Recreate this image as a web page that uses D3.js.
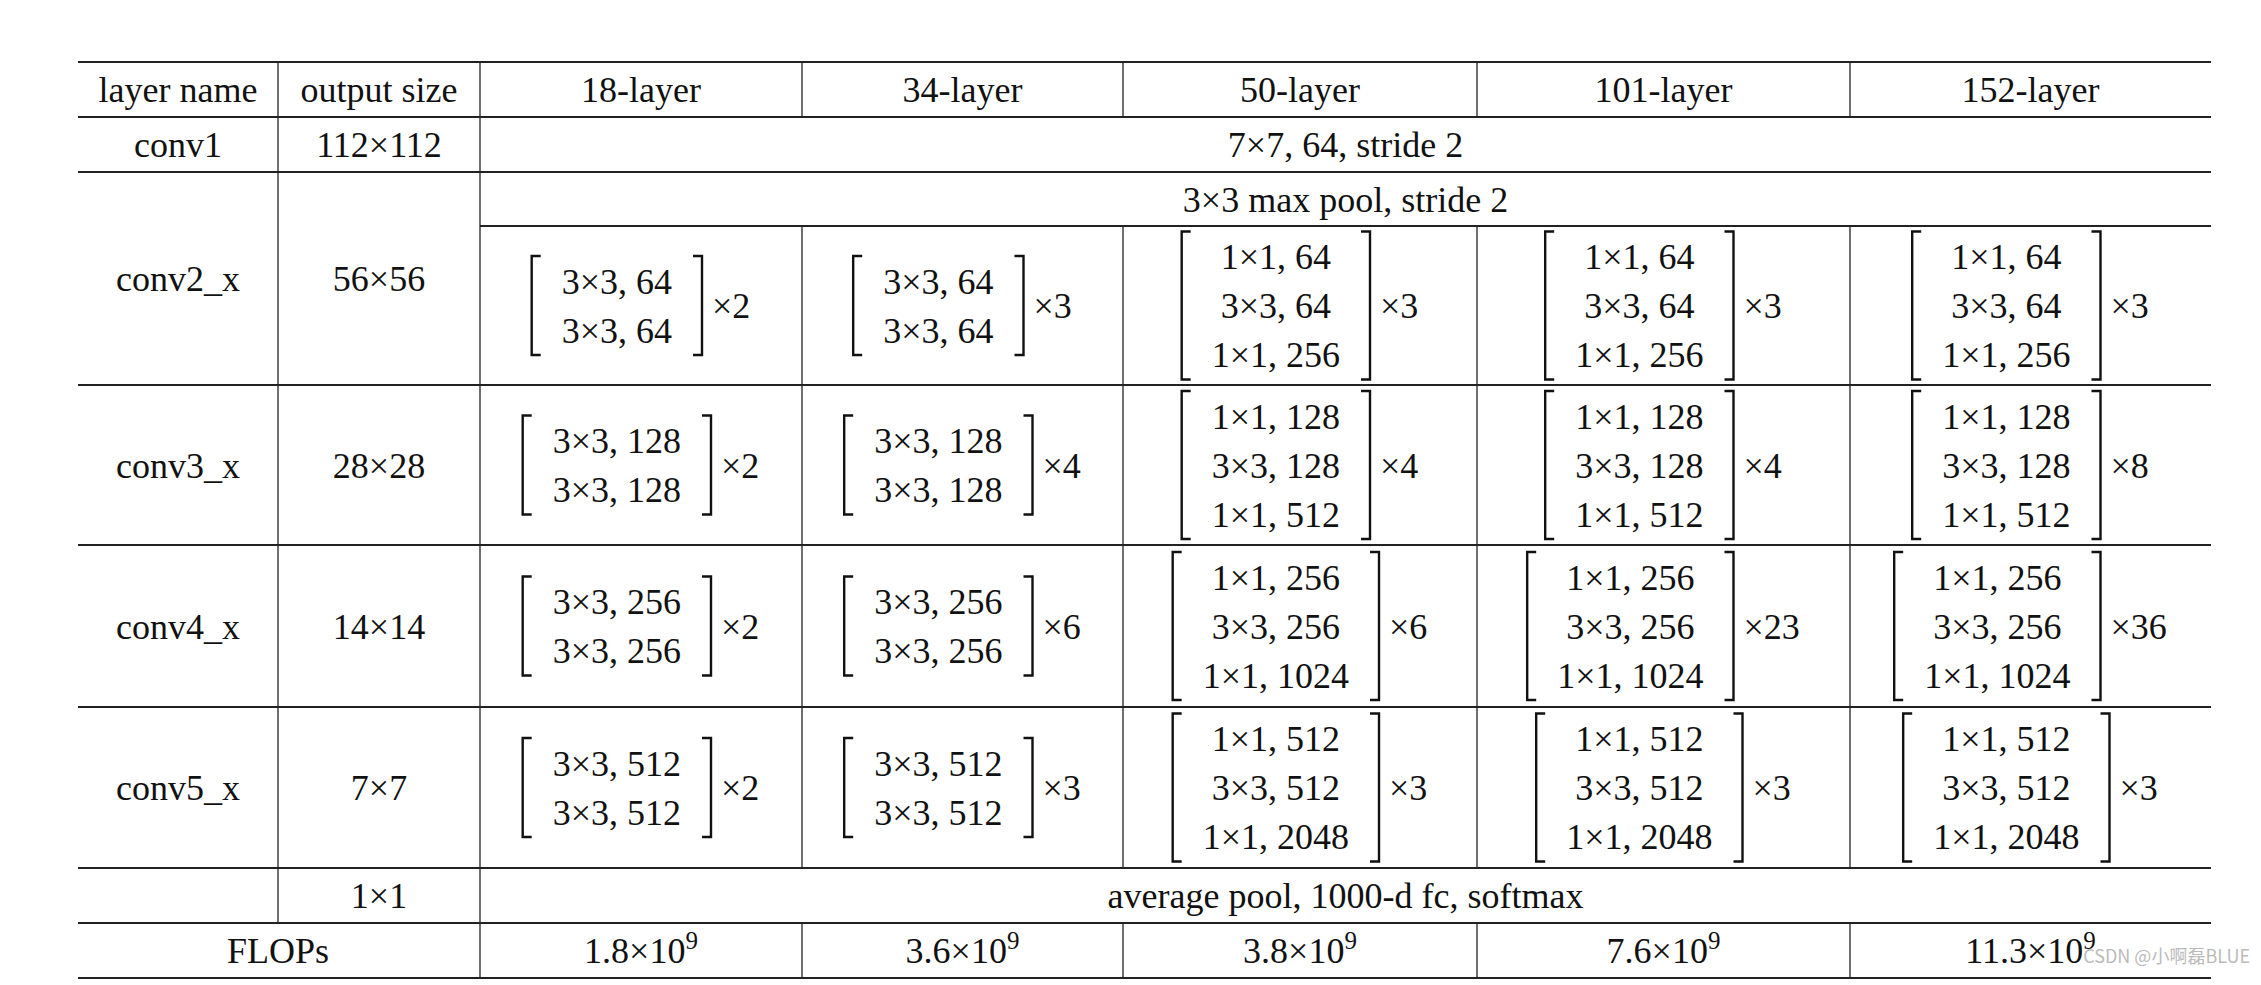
<!DOCTYPE html>
<html><head><meta charset="utf-8">
<script src="https://cdn.jsdelivr.net/npm/d3@7"></script>
<style>body{margin:0;background:#fff}svg{display:block}</style>
</head><body>
<script>
const headers = ["layer name","output size","18-layer","34-layer","50-layer","101-layer","152-layer"];
const layerNames = ["conv1","conv2_x","conv3_x","conv4_x","conv5_x","","FLOPs"];
const outputSizes = ["112×112","56×56","28×28","14×14","7×7","1×1"];
const conv1Text = "7×7, 64, stride 2";
const poolText = "3×3 max pool, stride 2";
const finalText = "average pool, 1000-d fc, softmax";
const basicBlocks = [["3×3, 64","3×3, 64"],["3×3, 128","3×3, 128"],["3×3, 256","3×3, 256"],["3×3, 512","3×3, 512"]];
const bottleBlocks = [["1×1, 64","3×3, 64","1×1, 256"],["1×1, 128","3×3, 128","1×1, 512"],["1×1, 256","3×3, 256","1×1, 1024"],["1×1, 512","3×3, 512","1×1, 2048"]];
const repeats18 = [2,2,2,2], repeats34=[3,4,6,3], repeats50=[3,4,6,3], repeats101=[3,4,23,3], repeats152=[3,8,36,3];
const flops = ["1.8","3.6","3.8","7.6","11.3"];

const W=2261,H=985, FS=36, FONT="'Liberation Serif','Times New Roman',serif";
const colX=[78,278,480,802,1123,1477,1850,2211];
const rowY=[62,117,172,226,385,545,707,868,923,978];
const svg=d3.select("body").append("svg").attr("width",W).attr("height",H).style("font-family",FONT);
const cx=i=>(colX[i]+colX[i+1])/2;
function txt(x,y,s,anchor="middle",size=FS){return svg.append("text").attr("x",x).attr("y",y).attr("dy","0.35em").attr("text-anchor",anchor).attr("font-size",size).attr("fill","#111").text(s);}
function hline(y,x1,x2,w=2){svg.append("line").attr("x1",x1).attr("x2",x2).attr("y1",y).attr("y2",y).attr("stroke","#222").attr("stroke-width",w);}
function vline(x,y1,y2){svg.append("line").attr("x1",x).attr("x2",x).attr("y1",y1).attr("y2",y2).attr("stroke","#222").attr("stroke-width",1.3);}

rowY.forEach((y,i)=>{ if(i===3) hline(y,colX[2],colX[7]); else hline(y,colX[0],colX[7], (i===0||i===9)?2.2:2); });
vline(colX[1],rowY[0],rowY[8]); vline(colX[2],rowY[0],rowY[9]);
[3,4,5,6].forEach(c=>{vline(colX[c],rowY[0],rowY[1]);vline(colX[c],rowY[3],rowY[7]);vline(colX[c],rowY[8],rowY[9]);});

headers.forEach((h,i)=>txt(cx(i),(rowY[0]+rowY[1])/2,h));
const nameRows=[[1,2],[2,4],[4,5],[5,6],[6,7],[7,8]];
nameRows.forEach((r,i)=>{const y=(rowY[r[0]]+rowY[r[1]])/2; if(layerNames[i]) txt(cx(0),y,layerNames[i]); txt(cx(1),y,outputSizes[i]);});
txt(colX[1],(rowY[8]+rowY[9])/2,"FLOPs");
const spanX=(colX[2]+colX[7])/2;
txt(spanX,(rowY[1]+rowY[2])/2,conv1Text);
txt(spanX,(rowY[2]+rowY[3])/2,poolText);
txt(spanX,(rowY[7]+rowY[8])/2,finalText);

const reps=[repeats18,repeats34,repeats50,repeats101,repeats152];
const LH=49,PAD=30,GAP=10,TICK=9;
for(let c=0;c<5;c++){
  for(let b=0;b<4;b++){
    const lines=c<2?basicBlocks[b]:bottleBlocks[b];
    const y0=rowY[b+3],y1=rowY[b+4],ym=(y0+y1)/2;
    const g=svg.append("g");
    const ts=lines.map((s,k)=>g.append("text").attr("y",ym+(k-(lines.length-1)/2)*LH).attr("dy","0.35em").attr("text-anchor","middle").attr("font-size",FS).attr("fill","#111").text(s));
    const mw=d3.max(ts,s=>s.node().getComputedTextLength());
    const m=g.append("text").attr("y",ym).attr("dy","0.35em").attr("font-size",FS).attr("fill","#111").text("×"+reps[c][b]);
    const mwid=m.node().getComputedTextLength();
    const bw=mw+2*PAD, total=bw+GAP+mwid;
    const left=cx(c+2)-total/2;
    ts.forEach(s=>s.attr("x",left+bw/2));
    m.attr("x",left+bw+GAP);
    const top=ym-((lines.length-1)/2)*LH-25, bot=ym+((lines.length-1)/2)*LH+25;
    const br=(x,d)=>g.append("path").attr("d",`M${x+d*TICK},${top}H${x}V${bot}H${x+d*TICK}`).attr("fill","none").attr("stroke","#111").attr("stroke-width",2.4);
    br(left,1); br(left+bw,-1);
  }
  const t=txt(cx(c+2),(rowY[8]+rowY[9])/2,"");
  t.append("tspan").text(flops[c]+"×10");
  t.append("tspan").attr("font-size",25).attr("dy","-0.55em").text("9");
}
svg.append("text").attr("x",2250).attr("y",963).attr("text-anchor","end").attr("font-family","'Noto Sans CJK SC',sans-serif").attr("font-size",18).attr("fill","#bbb").text("CSDN @小啊磊BLUE");
</script>
</body></html>
